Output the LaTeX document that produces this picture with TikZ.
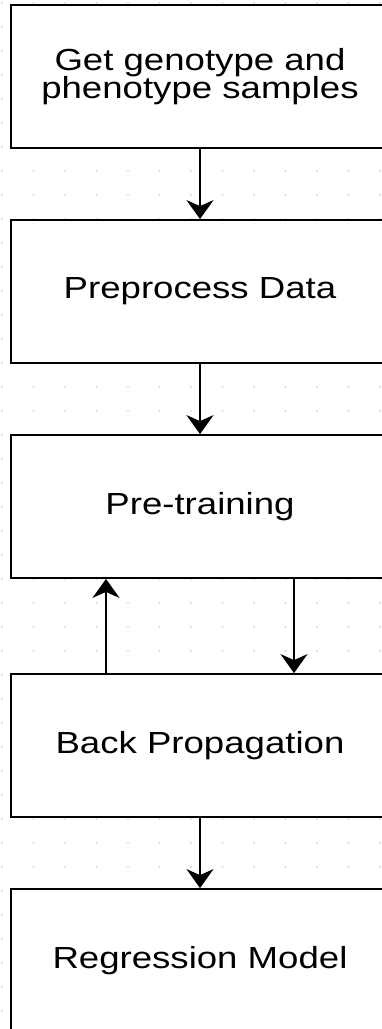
\documentclass[tikz,border=0pt]{standalone}
\usepackage{fontspec}
\setmainfont[FakeStretch=1.2]{Liberation Sans}
\usetikzlibrary{arrows.meta}
\begin{document}
\begin{tikzpicture}[x=1pt,y=-1pt,
  stepbox/.style={draw=black,line width=1.8pt,fill=white,rectangle,
    minimum width=378pt,minimum height=143pt,inner sep=0pt,align=center,
    font=\fontsize{30.5pt}{28.5pt}\selectfont},
  flow/.style={draw=black,line width=1.8pt,
    -{Stealth[length=19pt,width=27pt,inset=6pt]}},
  griddot/.style={fill=black!22,draw=none}]
\useasboundingbox (0,0) rectangle (382,1029);
\clip (0,0) rectangle (382,1029);
\fill[white] (0,0) rectangle (382,1029);
% dotted canvas grid
\foreach \gx in {0,...,12}{
  \foreach \gy in {0,...,42}{
    \fill[griddot] (2+31.5*\gx,3+24*\gy) circle (0.8pt);
  }
}
% process steps
\node[stepbox] (get) at (200,76.5) {Get genotype and\\phenotype samples};
\node[stepbox] (prep) at (200,291.5) {Preprocess Data};
\node[stepbox] (pre) at (200,506.5) {Pre-training};
\node[stepbox] (back) at (200,745.5) {Back Propagation};
\node[stepbox] (reg) at (200,960.5) {Regression Model};
% connectors
\draw[flow] (get.south) -- (prep.north);
\draw[flow] (prep.south) -- (pre.north);
\draw[flow] ([xshift=94pt]pre.south) -- ([xshift=94pt]back.north);
\draw[flow] ([xshift=-94pt]back.north) -- ([xshift=-94pt]pre.south);
\draw[flow] (back.south) -- (reg.north);
\end{tikzpicture}
\end{document}
